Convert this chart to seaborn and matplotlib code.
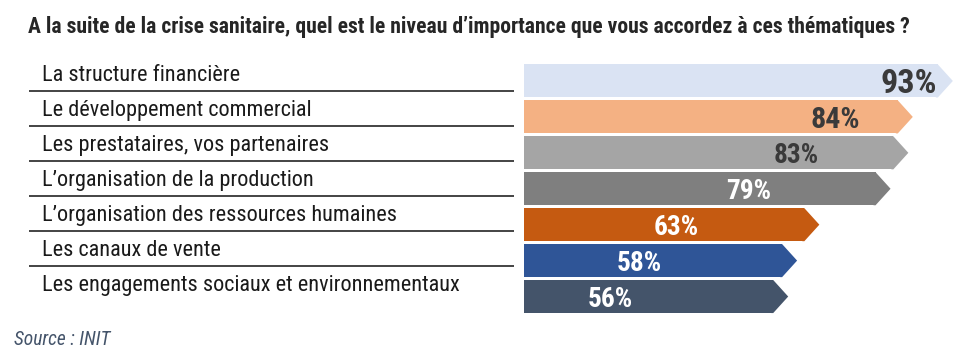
import matplotlib
matplotlib.use("Agg")
import matplotlib.pyplot as plt
from matplotlib import font_manager as fm
from matplotlib.font_manager import FontProperties
from matplotlib.patches import Polygon
import seaborn as sns
import pandas as pd

# ---------------- data ----------------
categories = [
    "La structure financière",
    "Le développement commercial",
    "Les prestataires, vos partenaires",
    "L’organisation de la production",
    "L’organisation des ressources humaines",
    "Les canaux de vente",
    "Les engagements sociaux et environnementaux",
]
values = [93, 84, 83, 79, 63, 58, 56]
value_labels = ["93%", "84%", "83%", "79%", "63%", "58%", "56%"]
title_text = "A la suite de la crise sanitaire, quel est le niveau d’importance que vous accordez à ces thématiques ?"
source_text = "Source : INIT"

# ---------------- styles ----------------
bar_colors = ["#DAE3F3", "#F4B183", "#A5A5A5", "#7F7F7F", "#C55A11", "#2F5597", "#44546A"]
pct_colors = ["#3A3A3A", "#3A3A3A", "#3A3A3A", "white", "white", "white", "white"]
pct_sizes = [25, 22, 20, 20, 20, 20, 20]   # target cap height in px

sns.set_theme(style="white")

# ---------------- font choice (prefer condensed faces) ----------------
entries = fm.fontManager.ttflist
names = {f.name for f in entries}
FAM, STR = None, "normal"
for n in ["Roboto Condensed", "Liberation Sans Narrow", "Open Sans Condensed",
          "Noto Sans Condensed", "DejaVu Sans Condensed"]:
    if n in names:
        FAM = n
        break
if FAM is None:
    for n in ["Roboto", "Noto Sans", "Open Sans", "DejaVu Sans", "Liberation Sans"]:
        if any(f.name == n and str(f.stretch) in ("condensed", "semi-condensed", "extra-condensed")
               for f in entries):
            FAM, STR = n, "condensed"
            break
if FAM is None:
    FAM = "Roboto"
plt.rcParams["font.family"] = [FAM, "DejaVu Sans"]

def fp(size, weight="normal", style="normal"):
    return FontProperties(family=[FAM, "DejaVu Sans"], stretch=STR, weight=weight,
                          style=style, size=size)

W, H = 971, 353
fig = plt.figure(figsize=(W / 100, H / 100), dpi=100)

def fx(px):
    return px / W

def fy(py):
    return 1 - py / H

# ---------------- bars axes ----------------
bx0, bx1, by0, by1 = 524, 969, 63, 314.5
axb = fig.add_axes([fx(bx0), fy(by1), fx(bx1 - bx0), (by1 - by0) / H])
df = pd.DataFrame({"cat": categories, "val": values})
sns.barplot(data=df, x="val", y="cat", hue="cat", palette=bar_colors, legend=False,
            orient="h", width=0.92, saturation=1, ax=axb, linewidth=0)
axb.set_xlim(0, 100)
axb.set_ylim(6.5, -0.5)
axb.axis("off")

px_per_unit = (bx1 - bx0) / 100.0
tip = 15 / px_per_unit
overlap = 2 / px_per_unit
bars = sorted(axb.patches, key=lambda p: p.get_y())
for i, p in enumerate(bars):
    x0 = p.get_x() + p.get_width()
    y0 = p.get_y()
    h = p.get_height()
    axb.add_patch(Polygon([(x0 - overlap, y0), (x0, y0), (x0 + tip, y0 + h / 2),
                           (x0, y0 + h), (x0 - overlap, y0 + h)],
                          closed=True, facecolor=p.get_facecolor(), edgecolor="none",
                          linewidth=0, antialiased=True, clip_on=False, zorder=p.get_zorder()))

# ---------------- labels axes ----------------
lx0, lx1, ly0, ly1 = 29, 514, 55.45, 301.15
axl = fig.add_axes([fx(lx0), fy(ly1), fx(lx1 - lx0), (ly1 - ly0) / H])
axl.set_xlim(0, 1)
axl.set_ylim(6.5, -0.5)
axl.axis("off")
for i in range(len(categories) - 1):
    axl.axhline(i + 0.5, color="#111111", lw=1.1)

lab_texts = []
for i, c in enumerate(categories):
    t = axl.text((42 - lx0) / (lx1 - lx0), i + 0.22, c, ha="left", va="baseline",
                 color="#1A1A1A", fontproperties=fp(15))
    lab_texts.append(t)

# percent labels
pct_texts = []
for i, (p, lab) in enumerate(zip(bars, value_labels)):
    frac = 0.93 - 0.097 * i
    xc = p.get_width() * frac
    yc = p.get_y() + p.get_height() / 2
    size_pt = pct_sizes[i] / 0.73 * 72 / 100
    t = axb.text(xc, yc, lab, ha="center", va="center_baseline", color=pct_colors[i],
                 fontproperties=fp(size_pt, weight="bold"), zorder=5)
    pct_texts.append(t)

title = fig.text(fx(28), fy(33), title_text, ha="left", va="baseline", color="#262626",
                 fontproperties=fp(15, weight="bold"))
src = fig.text(fx(14), fy(345), source_text, ha="left", va="baseline", color="#44546A",
               fontproperties=fp(12, style="italic"))

# ---------------- fit text widths ----------------
fig.canvas.draw()
r = fig.canvas.get_renderer()

def fit(texts, target_px, ref_index=0):
    wref = texts[ref_index].get_window_extent(r).width
    s = texts[ref_index].get_fontsize() * target_px / wref
    for t in texts:
        t.set_fontsize(s)

fit([title], 879)
fit(lab_texts, 417, ref_index=len(lab_texts) - 1)
fit([src], 96)

fig.savefig("out.png", dpi=100)
